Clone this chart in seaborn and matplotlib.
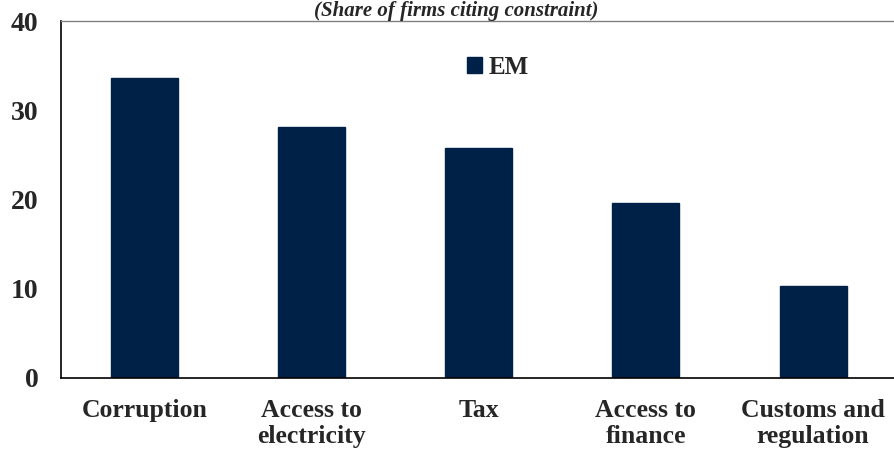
import matplotlib
matplotlib.use("Agg")
import matplotlib.pyplot as plt
import seaborn as sns
import pandas as pd

categories = ["Corruption", "Access to\nelectricity", "Tax", "Access to\nfinance", "Customs and\nregulation"]
em_values = [33.6, 28.1, 25.8, 19.6, 10.3]
yticks = [0, 10, 20, 30, 40]

sns.set_style("white")
plt.rcParams['font.family'] = ['Liberation Serif', 'DejaVu Serif']
plt.rcParams['font.weight'] = 'bold'

df = pd.DataFrame({"category": categories, "value": em_values, "series": "EM"})

fig = plt.figure(figsize=(8.94, 4.53), dpi=100)
ax = fig.add_axes([0.068, 0.1656, 0.935, 0.788])
sns.barplot(data=df, x="category", y="value", hue="series", palette=["#002147"],
            width=0.4, ax=ax, saturation=1, edgecolor="#002147")

ax.set_ylim(0, 40)
ax.set_yticks(yticks)
ax.set_xlim(-0.5, 4.5)
ax.set_xlabel("")
ax.set_ylabel("")
ax.tick_params(axis="both", length=0)
ax.tick_params(axis="x", pad=15, labelsize=18.5)
ax.tick_params(axis="y", pad=16, labelsize=20)
for lab in ax.get_xticklabels():
    lab.set_fontweight("bold")
    lab.set_linespacing(1.2)
for lab in ax.get_yticklabels():
    lab.set_fontweight("bold")

for s in ["left", "bottom"]:
    ax.spines[s].set_color("black")
    ax.spines[s].set_linewidth(1.2)
ax.spines["top"].set_color("#808080")
ax.spines["top"].set_linewidth(1.0)
ax.spines["right"].set_visible(False)

leg = ax.legend(loc="center", bbox_to_anchor=(0.523, 0.87), frameon=False,
                prop={"weight": "bold", "size": 18}, handlelength=0.6, handleheight=0.6,
                handletextpad=0.25)

fig.text(0.51, 0.964, "(Share of firms citing constraint)", ha="center", va="baseline",
         fontsize=15, fontstyle="italic", fontweight="bold")

fig.savefig("out.png", dpi=100)
